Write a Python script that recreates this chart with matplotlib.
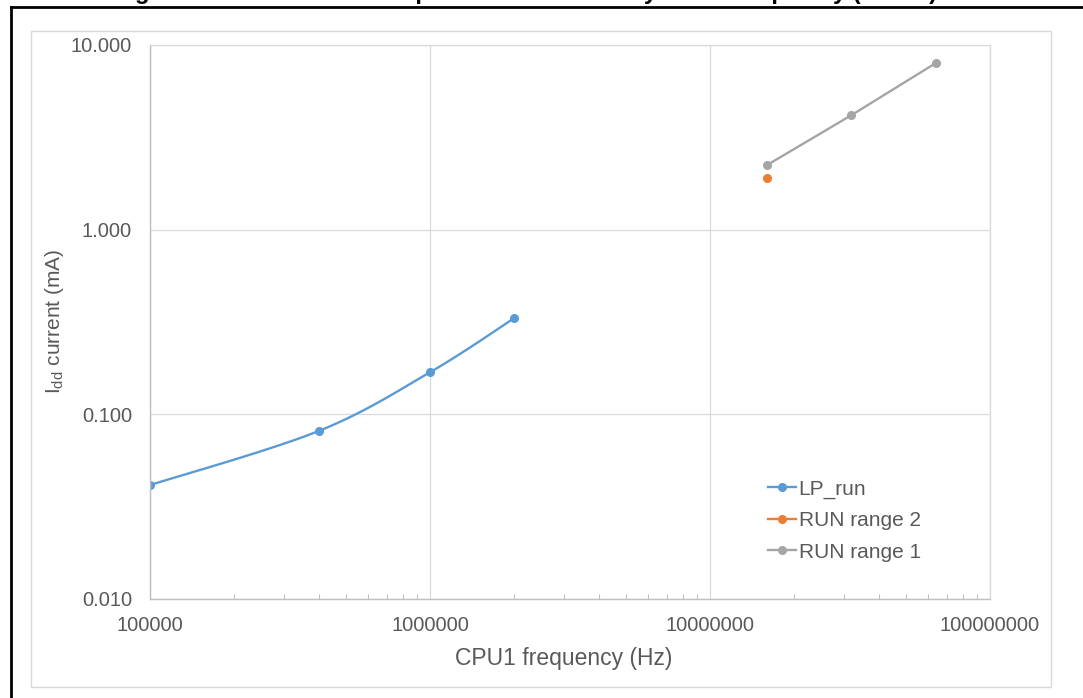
import numpy as np
import matplotlib
matplotlib.use("Agg")
import matplotlib.pyplot as plt
from matplotlib.lines import Line2D
from matplotlib.patches import Rectangle
from matplotlib.ticker import FixedLocator, LogLocator, NullFormatter

plt.rcParams['font.family'] = ['Liberation Sans', 'DejaVu Sans']
plt.rcParams['mathtext.fontset'] = 'custom'
plt.rcParams['mathtext.rm'] = 'Liberation Sans'
plt.rcParams['mathtext.it'] = 'Liberation Sans'

# ---- data ----
lp_freq = [100000, 400000, 1000000, 2000000]
lp_curr = [0.0414, 0.0812, 0.169, 0.332]
r2_freq = [16000000]
r2_curr = [1.90]
r1_freq = [16000000, 32000000, 64000000]
r1_curr = [2.24, 4.17, 7.98]

x_ticks = [100000, 1000000, 10000000, 100000000]
x_ticklabels = ["100000", "1000000", "10000000", "100000000"]
y_ticks = [0.01, 0.1, 1, 10]
y_ticklabels = ["0.010", "0.100", "1.000", "10.000"]

series_names = ["LP_run", "RUN range 2", "RUN range 1"]
colors = ["#5B9BD5", "#ED7D31", "#A5A5A5"]
title = "Figure 12. Current consumption in Run mode by CPU1 frequency (LPrun)"

W, H = 1083, 698
fig = plt.figure(figsize=(W / 100, H / 100), dpi=100)


def smooth(xs, ys, n=40):
    lx = np.log10(xs)
    ly = np.log10(ys)
    P = np.column_stack([lx, ly])
    P = np.vstack([P[0], P, P[-1]])
    out = []
    for i in range(1, len(P) - 2):
        p0, p1, p2, p3 = P[i - 1], P[i], P[i + 1], P[i + 2]
        c1 = p1 + (p2 - p0) / 6.0
        c2 = p2 - (p3 - p1) / 6.0
        t = np.linspace(0, 1, n)[:, None]
        b = ((1 - t) ** 3) * p1 + 3 * ((1 - t) ** 2) * t * c1 + 3 * (1 - t) * t ** 2 * c2 + t ** 3 * p2
        out.append(b)
    B = np.vstack(out)
    return 10 ** B[:, 0], 10 ** B[:, 1]


# outer frame (black) and chart border
fig.add_artist(Line2D([11 / W, 11 / W], [0, 1 - 7 / H], color='black', lw=2.0))
fig.add_artist(Line2D([11 / W, 1], [1 - 7 / H, 1 - 7 / H], color='black', lw=2.0))
fig.add_artist(Rectangle((31 / W, 1 - 687 / H), (1051 - 31) / W, (687 - 31) / H,
                         fill=False, edgecolor='#D9D9D9', lw=1.0))

# title of the source figure, cut off at the top edge as in the reference
fig.text(525 / W, 1 + 1.5 / H, title, ha='center', va='baseline', fontsize=17,
         fontweight='bold', color='black')

ax = fig.add_axes([150 / W, 1 - 599 / H, (990 - 150) / W, (599 - 45) / H])
ax.set_xscale('log')
ax.set_yscale('log')
ax.set_xlim(1e5, 1e8)
ax.set_ylim(0.01, 10)

ax.xaxis.set_major_locator(FixedLocator(x_ticks))
ax.set_xticklabels(x_ticklabels)
ax.yaxis.set_major_locator(FixedLocator(y_ticks))
ax.set_yticklabels(y_ticklabels)
ax.xaxis.set_minor_locator(LogLocator(base=10, subs=np.arange(2, 10)))
ax.xaxis.set_minor_formatter(NullFormatter())
ax.yaxis.set_minor_locator(FixedLocator([]))

ax.grid(True, which='major', color='#D9D9D9', lw=0.9)
ax.set_axisbelow(True)
ax.tick_params(axis='both', which='major', length=0, labelsize=14.5, labelcolor='#595959')
ax.tick_params(axis='x', which='major', pad=12)
ax.tick_params(axis='y', which='major', pad=13)
ax.tick_params(axis='x', which='minor', direction='in', length=3.5, color='#BFBFBF', width=0.8)

for s in ['top', 'right']:
    ax.spines[s].set_color('#D9D9D9')
    ax.spines[s].set_linewidth(0.9)
for s in ['left', 'bottom']:
    ax.spines[s].set_color('#BFBFBF')
    ax.spines[s].set_linewidth(1.0)

# series
sx, sy = smooth(lp_freq, lp_curr)
ax.plot(sx, sy, color=colors[0], lw=1.7, solid_capstyle='round')
ax.plot(lp_freq, lp_curr, ls='none', marker='o', ms=5.5, color=colors[0])
ax.plot(r2_freq, r2_curr, ls='none', marker='o', ms=5.5, color=colors[1])
ax.plot(r1_freq, r1_curr, color=colors[2], lw=1.7, marker='o', ms=5.5)

handles = [Line2D([], [], color=c, lw=1.7, marker='o', ms=5.5) for c in colors]
leg = ax.legend(handles, series_names, loc='lower left', bbox_to_anchor=(758 / W, 1 - 572 / H),
                bbox_transform=fig.transFigure, frameon=False, fontsize=15,
                labelcolor='#595959', handlelength=1.3, handletextpad=0.15,
                labelspacing=0.6, borderpad=0)

ax.set_xlabel("CPU1 frequency (Hz)", fontsize=16.5, color='#595959')
ax.xaxis.set_label_coords(564 / W, 1 - 658 / H, transform=fig.transFigure)
ax.xaxis.label.set_va('center')
ax.set_ylabel(r"I$_{\mathrm{dd}}$ current (mA)", fontsize=15, color='#595959')
ax.yaxis.set_label_coords(54 / W, 1 - 321 / H, transform=fig.transFigure)
ax.yaxis.label.set_va('center')

fig.savefig("out.png", dpi=100)
